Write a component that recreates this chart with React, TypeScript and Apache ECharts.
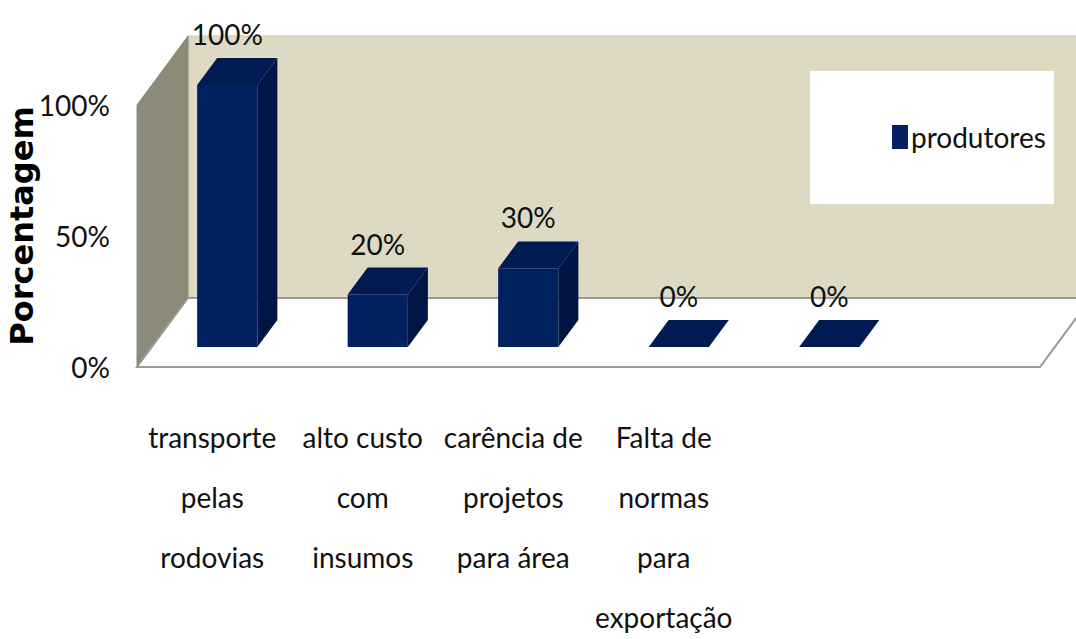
import React, { useEffect, useRef } from "react";
import * as echarts from "echarts";

const categories = [
  "transporte\npelas\nrodovias",
  "alto custo\ncom\ninsumos",
  "carência de\nprojetos\npara área",
  "Falta de\nnormas\npara\nexportação",
  "",
  "",
];
const values: (number | null)[] = [100, 20, 30, 0, 0, null];
const seriesName = "produtores";
const yAxisName = "Porcentagem";
const yMin = 0;
const yMax = 100;
const yInterval = 50;

const FONT = "Lato, 'Liberation Sans', sans-serif";
const BAR_FRONT = "#002060";
const BAR_TOP = "#001b52";
const BAR_SIDE = "#001543";
// depth geometry (pixels)
const WALL_DX = 51;
const WALL_DY = -69;
const BAR_FX = 15;
const BAR_FY = -20;
const BAR_DX = 20;
const BAR_DY = -27;

export default function App() {
  const ref = useRef<HTMLDivElement>(null);
  useEffect(() => {
    if (!ref.current) return;
    const chart = echarts.init(ref.current, undefined, { renderer: "svg" });
    const barData = values
      .map((v, i) => (v === null ? null : [i, v]))
      .filter((d) => d !== null);

    const option: any = {
      animation: false,
      backgroundColor: "#ffffff",
      grid: { left: 137, right: 36, top: 105, bottom: 272, containLabel: false, outerBoundsMode: "none" },
      legend: {
        data: [seriesName],
        left: 810,
        top: 71,
        orient: "vertical",
        backgroundColor: "#ffffff",
        padding: [46, 8, 47, 82],
        icon: "rect",
        itemWidth: 16,
        itemHeight: 24,
        itemGap: 0,
        textStyle: { fontFamily: FONT, fontSize: 28, color: "#111", lineHeight: 40, padding: [0, 0, 0, -2] },
      },
      xAxis: {
        type: "category",
        data: categories,
        axisLine: { show: true, lineStyle: { color: "#9a9a9a", width: 2 } },
        axisTick: { show: false },
        axisLabel: {
          interval: 0,
          margin: 40,
          fontFamily: FONT,
          fontSize: 28,
          lineHeight: 60,
          color: "#111",
          verticalAlign: "top",
        },
        z: 5,
      },
      yAxis: {
        type: "value",
        min: yMin,
        max: yMax,
        interval: yInterval,
        name: yAxisName,
        nameLocation: "middle",
        nameGap: 99,
        nameMoveOverlap: false,
        nameRotate: 90,
        nameTextStyle: {
          fontFamily: "'DejaVu Sans', Verdana, sans-serif",
          fontWeight: "bold",
          fontSize: 32,
          color: "#000",
          padding: [0, 0, 0, 20],
        },
        axisLine: { show: false },
        axisTick: { show: false },
        splitLine: { show: false },
        axisLabel: {
          margin: 27,
          fontFamily: FONT,
          fontSize: 28,
          color: "#111",
          formatter: (v: number) => `${v}%`,
        },
      },
      series: [
        {
          type: "custom",
          name: "walls",
          silent: true,
          z: 1,
          data: [[0, 0]],
          renderItem: (params: any) => {
            const cs = params.coordSys;
            const x = cs.x, y = cs.y, w = cs.width, h = cs.height;
            return {
              type: "group",
              children: [
                {
                  type: "rect",
                  shape: { x: x + WALL_DX, y: y + WALL_DY, width: w + 40, height: h },
                  style: { fill: "#ddd9c3", stroke: "#cfcab2", lineWidth: 1 },
                },
                {
                  type: "polygon",
                  shape: {
                    points: [
                      [x, y],
                      [x + WALL_DX, y + WALL_DY],
                      [x + WALL_DX, y + h + WALL_DY],
                      [x, y + h],
                    ],
                  },
                  style: { fill: "#8c8b7a", stroke: "#8c8b7a" },
                },
                {
                  type: "polygon",
                  shape: {
                    points: [
                      [x, y + h],
                      [x + w, y + h],
                      [x + w + WALL_DX, y + h + WALL_DY],
                      [x + WALL_DX, y + h + WALL_DY],
                    ],
                  },
                  style: { fill: "#ffffff", stroke: "#9a9a9a", lineWidth: 2 },
                },
              ],
            };
          },
        },
        {
          type: "custom",
          name: seriesName,
          z: 3,
          itemStyle: { color: BAR_FRONT },
          encode: { x: 0, y: 1 },
          data: barData,
          renderItem: (params: any, api: any) => {
            const xi = api.value(0);
            const v = api.value(1);
            const p0 = api.coord([xi, 0]);
            const p1 = api.coord([xi, v]);
            const band = api.size([1, 0])[0];
            const bw = band * 0.4;
            const cx = p0[0] + BAR_FX;
            const xl = cx - bw / 2;
            const xr = cx + bw / 2;
            const yb = p0[1] + BAR_FY;
            const yt = p1[1] + BAR_FY;
            return {
              type: "group",
              children: [
                {
                  type: "rect",
                  shape: { x: xl, y: yt, width: bw, height: yb - yt },
                  style: { fill: BAR_FRONT },
                },
                {
                  type: "polygon",
                  shape: {
                    points: [
                      [xr, yt],
                      [xr + BAR_DX, yt + BAR_DY],
                      [xr + BAR_DX, yb + BAR_DY],
                      [xr, yb],
                    ],
                  },
                  style: { fill: BAR_SIDE },
                },
                {
                  type: "polygon",
                  shape: {
                    points: [
                      [xl, yt],
                      [xr, yt],
                      [xr + BAR_DX, yt + BAR_DY],
                      [xl + BAR_DX, yt + BAR_DY],
                    ],
                  },
                  style: { fill: BAR_TOP },
                },
                {
                  type: "text",
                  style: {
                    text: `${v}%`,
                    x: cx,
                    y: yt + BAR_DY - 24,
                    align: "center",
                    verticalAlign: "middle",
                    fontFamily: FONT,
                    fontSize: 28,
                    fill: "#111",
                  },
                },
              ],
            };
          },
        },
      ],
    };
    chart.setOption(option);
    return () => chart.dispose();
  }, []);
  return (
    <div
      ref={ref}
      style={{ position: "fixed", left: 0, top: 0, width: 1076, height: 639 }}
    />
  );
}
